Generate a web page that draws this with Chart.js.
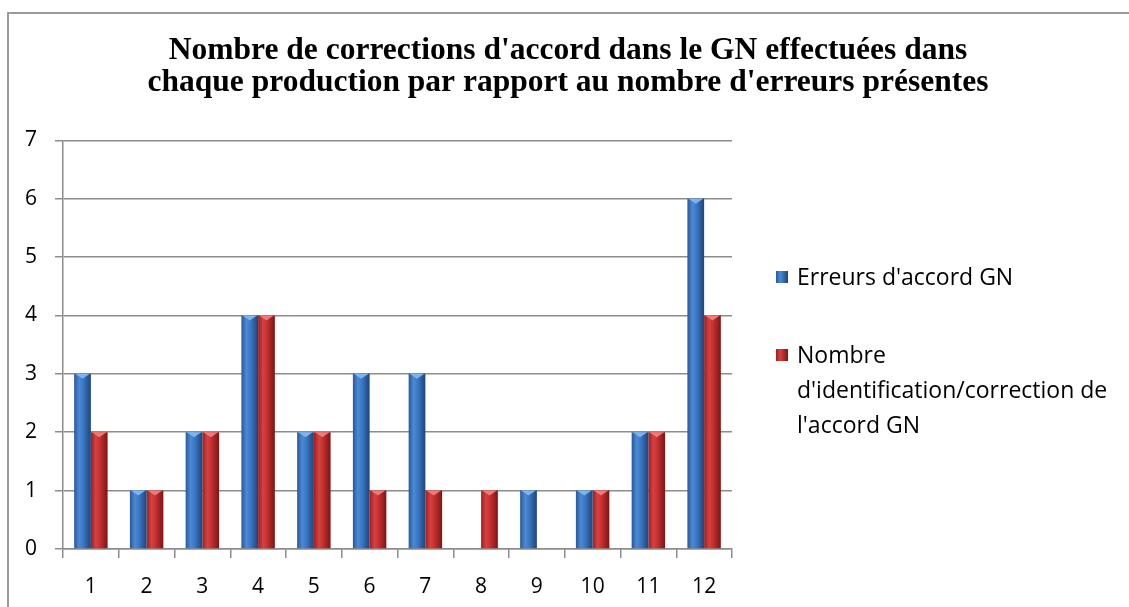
<!DOCTYPE html>
<html>
<head>
<meta charset="utf-8">
<script src="https://cdn.jsdelivr.net/npm/chart.js@4/dist/chart.umd.min.js"></script>
<style>
  html, body { margin: 0; padding: 0; background: #fff; }
  #wrap { position: relative; width: 1129px; height: 607px; overflow: hidden; background: #fff; }
  #frame { position: absolute; left: 7px; top: 12px; width: 1200px; height: 700px;
           border-left: 2px solid #9a9a9a; border-top: 2px solid #9a9a9a; box-sizing: border-box; }
  canvas { position: absolute; left: 0; top: 0; }
  .leg { position: absolute; left: 776px; font-family: "Open Sans", "Liberation Sans", sans-serif;
         font-size: 23px; color: #000; line-height: 35px; }
  .sw { position: absolute; left: 0; width: 12px; height: 12px; }
  .txt { position: absolute; left: 21px; white-space: nowrap; }
</style>
</head>
<body>
<div id="wrap">
  <div id="frame"></div>
  <canvas id="c" width="1129" height="607"></canvas>
  <div class="leg" id="leg1" style="top:259px;">
    <div class="sw" style="top:12px;background:linear-gradient(to right,#2a5794,#4a8ad6 35%,#1d4579);"></div>
    <div class="txt" id="t1"></div>
  </div>
  <div class="leg" id="leg2" style="top:337px;">
    <div class="sw" style="top:12px;background:linear-gradient(to right,#9e1f1f,#d84040 35%,#7d1515);"></div>
    <div class="txt" id="t2"></div>
  </div>
</div>
<script>
const titleLines = [
  "Nombre de corrections d'accord dans le GN effectuées dans",
  "chaque production par rapport au nombre d'erreurs présentes"
];
const categories = ["1","2","3","4","5","6","7","8","9","10","11","12"];
const seriesNames = ["Erreurs d'accord GN", "Nombre d'identification/correction de l'accord GN"];
const legendLines2 = ["Nombre", "d'identification/correction de", "l'accord GN"];
const erreurs = [3, 1, 2, 4, 2, 3, 3, 0, 1, 1, 2, 6];
const corrections = [2, 1, 2, 4, 2, 1, 1, 1, 0, 1, 2, 4];
const yTicks = [0, 1, 2, 3, 4, 5, 6, 7];

document.getElementById('t1').textContent = seriesNames[0];
document.getElementById('t2').innerHTML = legendLines2.map(s => s.replace(/</g,'&lt;')).join('<br>');

const palettes = [
  { stops: [[0,'#2a5794'],[0.3,'#4a8ad6'],[0.55,'#3b76c4'],[1,'#1d4579']], cap: '#7fb3ee' },
  { stops: [[0,'#9e1f1f'],[0.3,'#d84040'],[0.55,'#c32f2f'],[1,'#7d1515']], cap: '#ee7a7a' }
];

const spacer = {
  id: 'rightSpacer',
  beforeInit(chart) {
    const box = {
      position: 'right', weight: 100, fullSize: false,
      options: { stack: undefined, stackWeight: 1 },
      left: 0, top: 0, right: 0, bottom: 0, width: 0, height: 0,
      update(maxW, maxH) { this.width = 397; this.height = maxH; return { width: 397, height: maxH }; },
      isHorizontal() { return false; },
      draw() {}
    };
    Chart.layouts.addBox(chart, box);
  }
};

const barStyle = {
  id: 'barStyle',
  beforeDatasetsDraw(chart) {
    const ctx = chart.ctx;
    chart.data.datasets.forEach((ds, di) => {
      const meta = chart.getDatasetMeta(di);
      meta.data.forEach(el => {
        const l = el.x - el.width / 2, r = el.x + el.width / 2;
        const g = ctx.createLinearGradient(l, 0, r, 0);
        palettes[di].stops.forEach(s => g.addColorStop(s[0], s[1]));
        el.options = Object.assign({}, el.options, { backgroundColor: g });
      });
    });
  },
  afterDatasetsDraw(chart) {
    const ctx = chart.ctx;
    chart.data.datasets.forEach((ds, di) => {
      const meta = chart.getDatasetMeta(di);
      meta.data.forEach(el => {
        if (el.base - el.y < 2) return;
        const l = el.x - el.width / 2, r = el.x + el.width / 2;
        ctx.save();
        ctx.fillStyle = palettes[di].cap;
        ctx.beginPath();
        ctx.moveTo(l + 1, el.y);
        ctx.lineTo(r - 1, el.y);
        ctx.lineTo(el.x, el.y + 5);
        ctx.closePath();
        ctx.fill();
        ctx.restore();
      });
    });
  }
};

const gridColor = '#8c8c8c';
const tickFont = { family: "'Open Sans', 'Liberation Sans', sans-serif", size: 21 };

new Chart(document.getElementById('c'), {
  type: 'bar',
  data: {
    labels: categories,
    datasets: [
      { label: seriesNames[0], data: erreurs, backgroundColor: '#3b76c4', borderWidth: 0 },
      { label: seriesNames[1], data: corrections, backgroundColor: '#c32f2f', borderWidth: 0 }
    ]
  },
  options: {
    responsive: false,
    devicePixelRatio: 1,
    animation: false,
    layout: { padding: { left: 7, top: 0, right: 0, bottom: 0 } },
    datasets: { bar: { categoryPercentage: 0.6, barPercentage: 1.0 } },
    plugins: {
      legend: { display: false },
      tooltip: { enabled: false },
      title: {
        display: true,
        text: titleLines,
        color: '#000',
        font: { family: "'Liberation Serif', 'Times New Roman', serif", size: 31.5, weight: 'bold', lineHeight: 1.02 },
        padding: { top: 35, bottom: 41 }
      }
    },
    scales: {
      x: {
        grid: { display: true, drawOnChartArea: false, drawTicks: true, tickLength: 9, color: gridColor, lineWidth: 1.5, offset: true },
        border: { display: true, color: gridColor, width: 1.5 },
        ticks: { color: '#000', font: tickFont, padding: 16 },
        afterFit(s) { s.height = 58; }
      },
      y: {
        min: 0, max: 7,
        afterBuildTicks(s) { s.ticks = yTicks.map(v => ({ value: v })); },
        grid: { display: true, color: gridColor, lineWidth: 1.5, tickLength: 8, drawTicks: true },
        border: { display: true, color: gridColor, width: 1.5 },
        ticks: { color: '#000', font: tickFont, padding: 18 },
        afterFit(s) { s.width = 56; }
      }
    }
  },
  plugins: [spacer, barStyle]
});
</script>
</body>
</html>
